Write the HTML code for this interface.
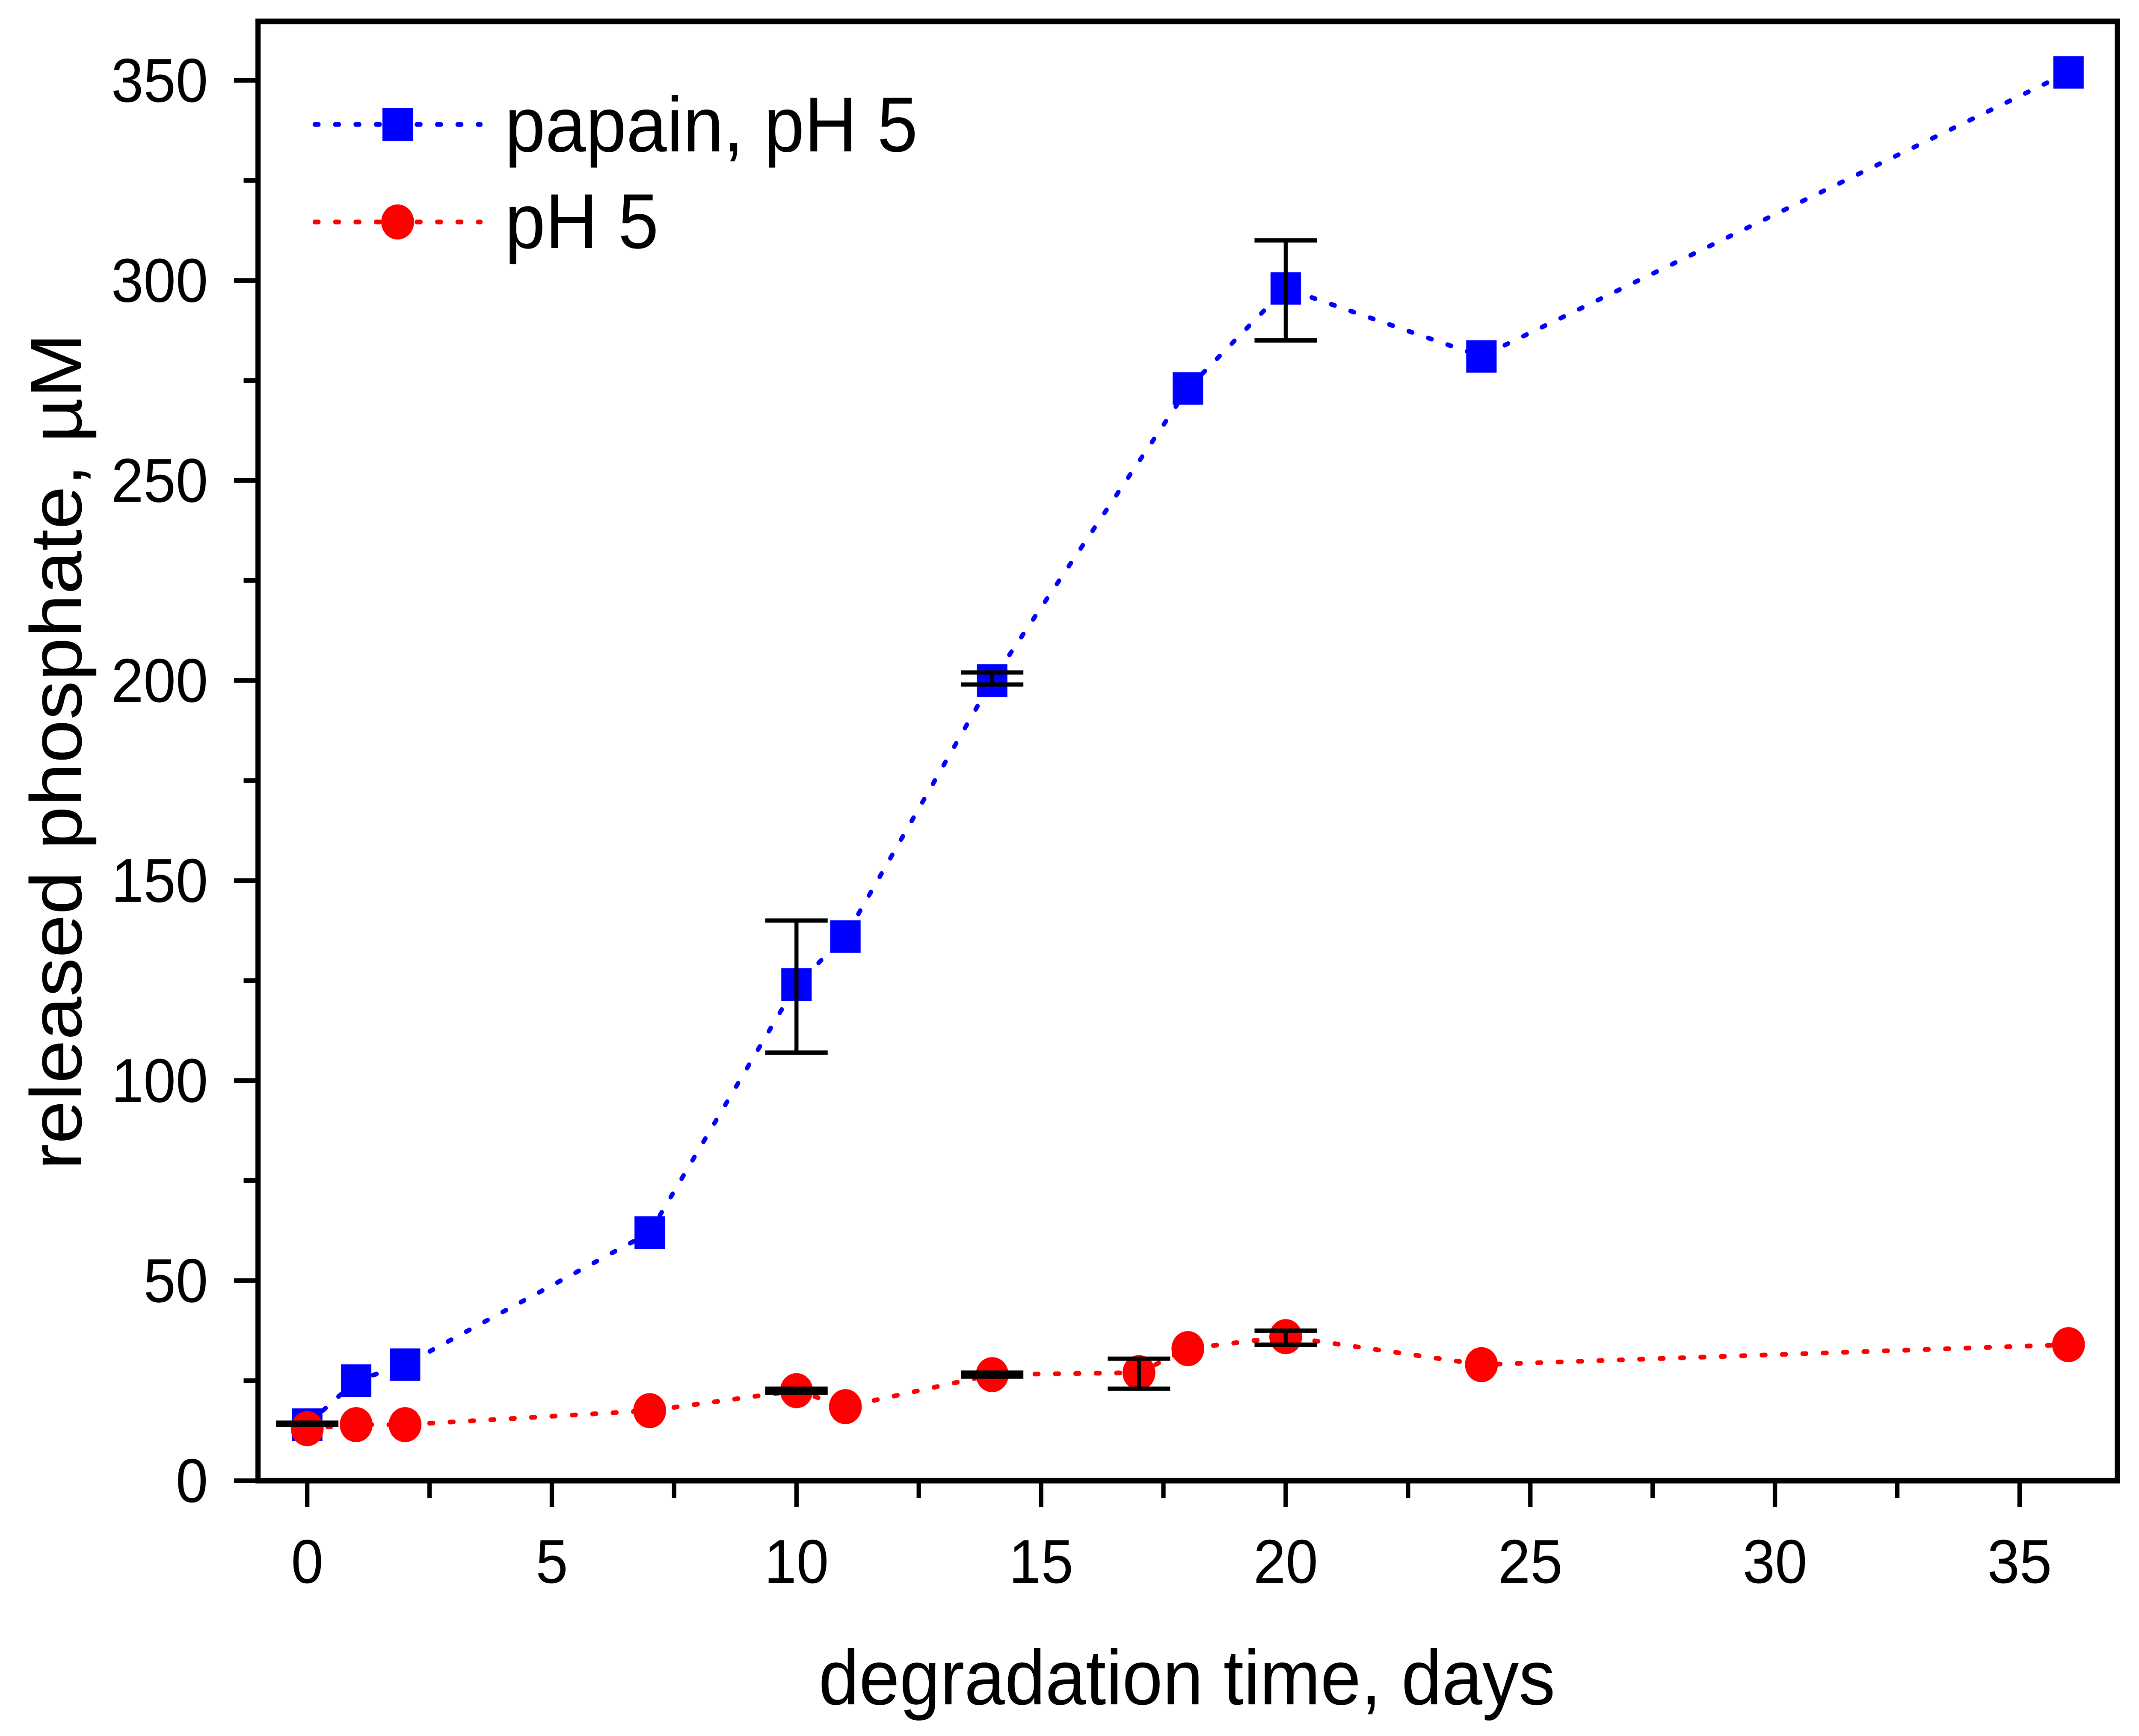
<!DOCTYPE html>
<html><head><meta charset="utf-8"><style>
html,body{margin:0;padding:0;background:#fff;overflow:hidden;width:100%;height:100%;}
svg{display:block;width:100vw;height:100vh;font-family:"Liberation Sans",Arial,sans-serif;}
</style></head><body>
<svg id="chart" viewBox="0 0 5347 4059" preserveAspectRatio="none">
<g id="g"></g>
</svg>
<script>
const xTicks=[0,5,10,15,20,25,30,35];
const yTicks=[0,50,100,150,200,250,300,350];
const papainX=[0,1,2,7,10,11,14,18,20,24,36];
const papainY=[14,25,29,62,124,136,200,273,298,281,352];
const papainErrX=[10,14,20];
const papainErrLo=[107,199,285];
const papainErrHi=[140,202,310];
const phX=[0,1,2,7,10,11,14,17,18,20,24,36];
const phY=[13,14,14,17.5,22.5,18.5,26.5,27,33,36,29,34];
const phErrX=[0,10,14,17,20];
const phErrLo=[14,22,26,23,34];
const phErrHi=[14.5,23,27,30.5,37.5];

const L=645,R=5293,T=50,B=3462;
const X0=768,DX=122.3;
const sx=v=>X0+v*DX;
const sy=v=>B-v*(B-188)/350;
const NS="http://www.w3.org/2000/svg";
const g=document.getElementById('g');
function el(t,a,name,parent){const e=document.createElementNS(NS,t);for(const k in a)e.setAttribute(k,a[k]);


(parent||g).appendChild(e);return e;}

yTicks.forEach(v=>{
 el('line',{x1:L-60,x2:L,y1:sy(v),y2:sy(v),stroke:'#000','stroke-width':11},'y-tick');
 const t=el('text',{x:520,y:sy(v)+50,'text-anchor':'end','font-size':145,fill:'#000'},'y-tick-label');t.textContent=v;
 if(v<350) el('line',{x1:L-36,x2:L,y1:sy(v+25),y2:sy(v+25),stroke:'#000','stroke-width':11},'y-minor-tick');
});
xTicks.forEach(v=>{
 el('line',{x1:sx(v),x2:sx(v),y1:B,y2:B+62,stroke:'#000','stroke-width':11},'x-tick');
 const t=el('text',{x:sx(v),y:3701,'text-anchor':'middle','font-size':145,fill:'#000'},'x-tick-label');t.textContent=v;
 if(v<35) el('line',{x1:sx(v+2.5),x2:sx(v+2.5),y1:B,y2:B+40,stroke:'#000','stroke-width':11},'x-minor-tick');
});
el('rect',{x:L,y:T,width:R-L,height:B-T,fill:'none',stroke:'#000','stroke-width':13},'plot-frame');

const xt=el('text',{x:2967,y:3985,'text-anchor':'middle','font-size':182,fill:'#000'},'x-axis-title');xt.textContent='degradation time, days';
const yt=el('text',{x:0,y:0,'text-anchor':'middle','font-size':182,fill:'#000',transform:'translate(203,1757) rotate(-90)'},'y-axis-title');yt.textContent='released phosphate, µM';

function series(xs,ys,color,name){
 el('polyline',{points:xs.map((x,i)=>sx(x)+','+sy(ys[i])).join(' '),fill:'none',stroke:color,'stroke-width':11,'stroke-dasharray':'9 42','stroke-linecap':'round'},name+'-line');
}
series(papainX,papainY,'#0000ff','papain');
series(phX,phY,'#ff0000','ph5');
papainX.forEach((x,i)=>el('rect',{x:sx(x)-38,y:sy(papainY[i])-38,width:76,height:76,fill:'#0000ff'},'papain-point'));
phX.forEach((x,i)=>el('circle',{cx:sx(x),cy:sy(phY[i]),r:41,fill:'#ff0000'},'ph5-point'));
function errs(xs,lo,hi,name){
 xs.forEach((x,i)=>{
  const c=sx(x);
  el('line',{x1:c,x2:c,y1:sy(lo[i]),y2:sy(hi[i]),stroke:'#000','stroke-width':10},name+'-error-bar');
  el('line',{x1:c-78,x2:c+78,y1:sy(lo[i]),y2:sy(lo[i]),stroke:'#000','stroke-width':10},name+'-error-cap');
  el('line',{x1:c-78,x2:c+78,y1:sy(hi[i]),y2:sy(hi[i]),stroke:'#000','stroke-width':10},name+'-error-cap');
 });
}
errs(papainErrX,papainErrLo,papainErrHi,'papain');
errs(phErrX,phErrLo,phErrHi,'ph5');

el('line',{x1:787,x2:1201,y1:291,y2:291,stroke:'#0000ff','stroke-width':11,'stroke-dasharray':'9 42','stroke-linecap':'round'},'legend-papain-line');
el('rect',{x:956,y:253,width:76,height:76,fill:'#0000ff'},'legend-papain-marker');
const l1=el('text',{x:1262,y:354,'font-size':182,fill:'#000'},'legend-papain-label');l1.textContent='papain, pH 5';
el('line',{x1:787,x2:1201,y1:519,y2:519,stroke:'#ff0000','stroke-width':11,'stroke-dasharray':'9 42','stroke-linecap':'round'},'legend-ph5-line');
el('circle',{cx:994,cy:519,r:41,fill:'#ff0000'},'legend-ph5-marker');
const l2=el('text',{x:1262,y:580,'font-size':182,fill:'#000'},'legend-ph5-label');l2.textContent='pH 5';
</script>
</body></html>
